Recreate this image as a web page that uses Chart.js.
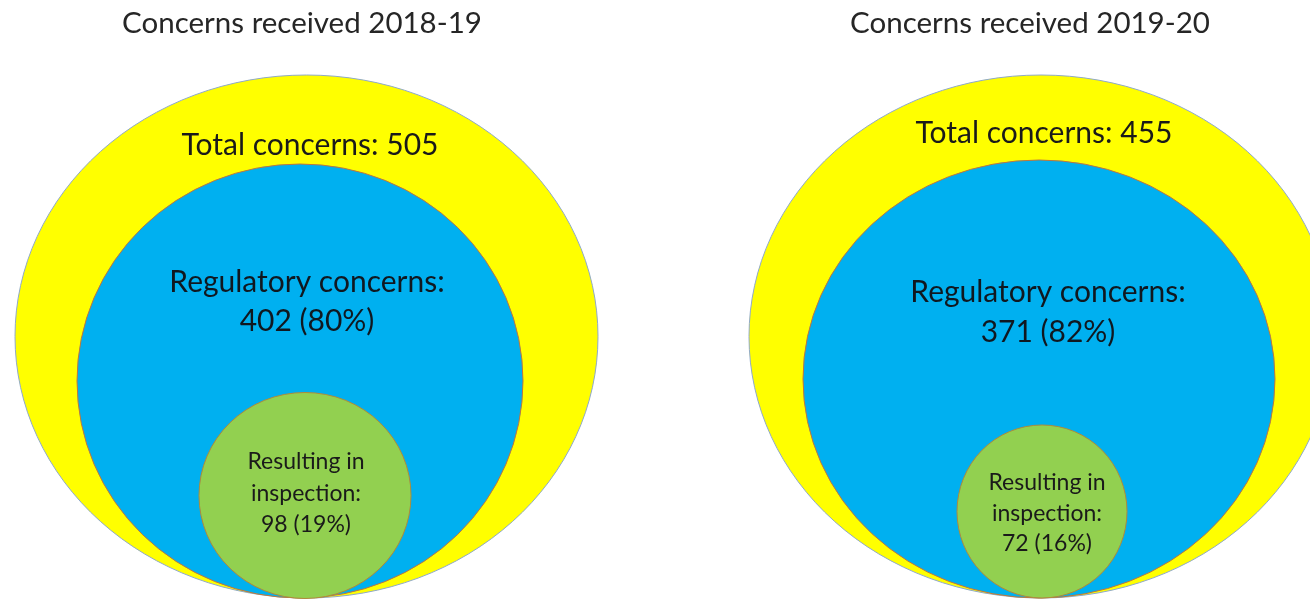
<!DOCTYPE html>
<html>
<head>
<meta charset="utf-8">
<script src="https://cdn.jsdelivr.net/npm/chart.js@4.4.1/dist/chart.umd.min.js"></script>
<style>
  html, body { margin: 0; padding: 0; background: #fff; }
  #wrap { width: 1310px; height: 600px; }
</style>
</head>
<body>
<div id="wrap"><canvas id="concerns"></canvas></div>
<script>
// values
var years = ['2018-19', '2019-20'];
var totalConcerns = [505, 455];
var regulatoryConcerns = [402, 371];
var regulatoryPct = [80, 82];
var inspections = [98, 72];
var inspectionPct = [19, 16];

// layout of the drawing, in picture units (x 0..1310, y 0..600 from the top)
var outerRings = [{x: 306.5, y: 336.5, rx: 291.5, ry: 261.5}, {x: 1041, y: 336.5, rx: 292, ry: 261.5}];
var middleRings = [{x: 300, y: 381, rx: 223, ry: 217}, {x: 1039, y: 379, rx: 236, ry: 219}];
var innerRings = [{x: 305, y: 495.5, rx: 106, ry: 103}, {x: 1042, y: 511.5, rx: 85, ry: 86.5}];
var titlePos = [{x: 302, y: 33}, {x: 1030, y: 33}];
var totalPos = [{x: 310, y: 155}, {x: 1044, y: 143}];
var regPos = [{x: 307, y: 292, gap: 39}, {x: 1048, y: 302, gap: 40}];
var inspPos = [{x: 306, y: 469, gap: 31.5}, {x: 1047, y: 490, gap: 30.5}];

var FONT = 'Lato, "Open Sans", sans-serif';

function centres(rings) {
  return rings.map(function (r) { return {x: r.x, y: r.y}; });
}

var ringPlugin = {
  id: 'rings',
  beforeDatasetsDraw: function (chart) {
    var ctx = chart.ctx, xs = chart.scales.x, ys = chart.scales.y;
    chart.data.datasets.forEach(function (ds, di) {
      chart.getDatasetMeta(di).data.forEach(function (pt, i) {
        var ring = ds.rings[i];
        var rx = Math.abs(xs.getPixelForValue(ring.x + ring.rx) - pt.x);
        var ry = Math.abs(ys.getPixelForValue(ring.y + ring.ry) - pt.y);
        ctx.save();
        ctx.beginPath();
        ctx.ellipse(pt.x, pt.y, rx, ry, 0, 0, Math.PI * 2);
        ctx.fillStyle = ds.backgroundColor;
        ctx.fill();
        ctx.lineWidth = ds.borderWidth;
        ctx.strokeStyle = ds.borderColor;
        ctx.stroke();
        ctx.restore();
      });
    });
  },
  afterDatasetsDraw: function (chart) {
    var ctx = chart.ctx, xs = chart.scales.x, ys = chart.scales.y;
    function text(str, x, y, size, color) {
      ctx.font = size + 'px ' + FONT;
      ctx.fillStyle = color;
      ctx.fillText(str, xs.getPixelForValue(x), ys.getPixelForValue(y));
    }
    ctx.save();
    ctx.textAlign = 'center';
    ctx.textBaseline = 'alphabetic';
    years.forEach(function (yr, i) {
      text('Concerns received ' + yr, titlePos[i].x, titlePos[i].y, 29.5, '#262626');
      text('Total concerns: ' + totalConcerns[i], totalPos[i].x, totalPos[i].y, 30, '#1a1a1a');
      text('Regulatory concerns:', regPos[i].x, regPos[i].y, 30, '#101820');
      text(regulatoryConcerns[i] + ' (' + regulatoryPct[i] + '%)', regPos[i].x, regPos[i].y + regPos[i].gap, 30, '#101820');
      text('Resulting in', inspPos[i].x, inspPos[i].y, 23, '#1a1a1a');
      text('inspection:', inspPos[i].x, inspPos[i].y + inspPos[i].gap, 23, '#1a1a1a');
      text(inspections[i] + ' (' + inspectionPct[i] + '%)', inspPos[i].x, inspPos[i].y + 2 * inspPos[i].gap, 23, '#1a1a1a');
    });
    ctx.restore();
  }
};

new Chart(document.getElementById('concerns'), {
  type: 'scatter',
  data: {
    datasets: [
      {
        label: 'Total concerns',
        data: centres(outerRings),
        rings: outerRings,
        backgroundColor: '#ffff00',
        borderColor: '#8fa9c8',
        borderWidth: 1,
        pointRadius: 0
      },
      {
        label: 'Regulatory concerns',
        data: centres(middleRings),
        rings: middleRings,
        backgroundColor: '#00b0f0',
        borderColor: '#c0763c',
        borderWidth: 1,
        pointRadius: 0
      },
      {
        label: 'Resulting in inspection',
        data: centres(innerRings),
        rings: innerRings,
        backgroundColor: '#92d050',
        borderColor: '#b08a3a',
        borderWidth: 1,
        pointRadius: 0
      }
    ]
  },
  options: {
    responsive: true,
    maintainAspectRatio: false,
    animation: false,
    events: [],
    layout: { padding: 0 },
    plugins: { legend: { display: false }, tooltip: { enabled: false } },
    scales: {
      x: { type: 'linear', min: 0, max: 1310, display: false },
      y: { type: 'linear', min: 0, max: 600, reverse: true, display: false }
    }
  },
  plugins: [ringPlugin]
});
</script>
</body>
</html>
